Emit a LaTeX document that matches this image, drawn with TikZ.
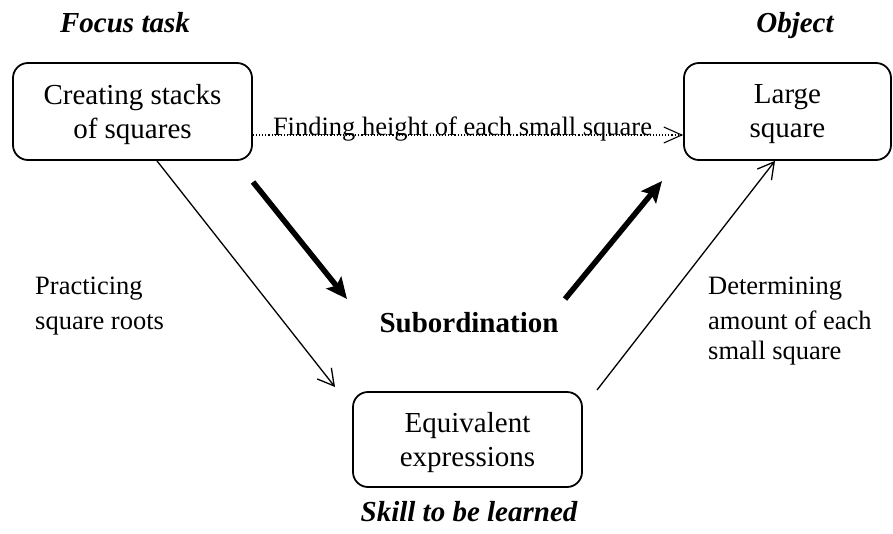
\documentclass[tikz,border=0pt]{standalone}
\usepackage{fontspec}
\setmainfont{Liberation Serif}
\usetikzlibrary{arrows.meta}

\begin{document}
\begin{tikzpicture}[x=1pt,y=-1pt,
  box/.style={draw, line width=1.8pt, rounded corners=15pt, align=center,
    font=\fontsize{29}{34}\selectfont, inner sep=0pt, text depth=0pt},
  lbl/.style={align=left, font=\fontsize{26.5}{35}\selectfont, inner sep=0pt},
  heading/.style={font=\fontsize{29}{34}\selectfont\bfseries\itshape, inner sep=0pt},
  thinarrow/.style={line width=1.3pt, -{Straight Barb[length=16pt,width=18pt]}},
  thickarrow/.style={line width=5.5pt, -{Stealth[length=21pt,width=19pt,inset=4pt]}},
  dotarrow/.style={line width=1.1pt, dotted, -{Straight Barb[length=18pt,width=16pt]}}]

\useasboundingbox (0,0) rectangle (893,533);

% headings
\node[heading, anchor=base] (hfocus) at (125,32) {Focus task};
\node[heading, anchor=base] (hobject) at (795,32) {Object};
\node[heading, anchor=base] (hskill) at (469,521) {Skill to be learned};

% boxes
\node[box, minimum width=239pt, minimum height=97pt] (focus) at (132.5,111.5) {Creating stacks\\of squares};
\node[box, minimum width=207pt, minimum height=97pt] (object) at (787.5,111.5) {Large\\square};
\node[box, minimum width=229pt, minimum height=95pt] (skill) at (467.5,439.5) {Equivalent\\expressions};

% centre label
\node[font=\fontsize{29}{34}\selectfont\bfseries, anchor=base, inner sep=0pt] (sub) at (469,332) {Subordination};

% side labels
\node[lbl, anchor=north west] (practice) at (35,277) {Practicing\\square roots};
\node[lbl, anchor=north west] (determine) at (708,277) {Determining\\amount of each\\[-5pt]small square};

% dotted connector with its label
\coordinate (dotY) at (0,135);
\draw[dotarrow] (focus.east |- dotY) -- (object.west |- dotY);
\node[lbl, anchor=base] (finding) at (462.5,135) {Finding height of each small square};

% thin connectors
\coordinate (s1) at (157,160);
\coordinate (t1) at (335,387);
\draw[thinarrow] (focus.south -| s1) -- (t1);
\coordinate (s2) at (597,390);
\coordinate (t2) at (775,163);
\draw[thinarrow] (s2) -- (object.south -| t2);

% thick subordination arrows
\coordinate (a1) at (253,182);
\coordinate (b1) at (347,299);
\draw[thickarrow] (a1) -- (b1);
\coordinate (a2) at (565,299);
\coordinate (b2) at (662,181);
\draw[thickarrow] (a2) -- (b2);
\end{tikzpicture}
\end{document}
